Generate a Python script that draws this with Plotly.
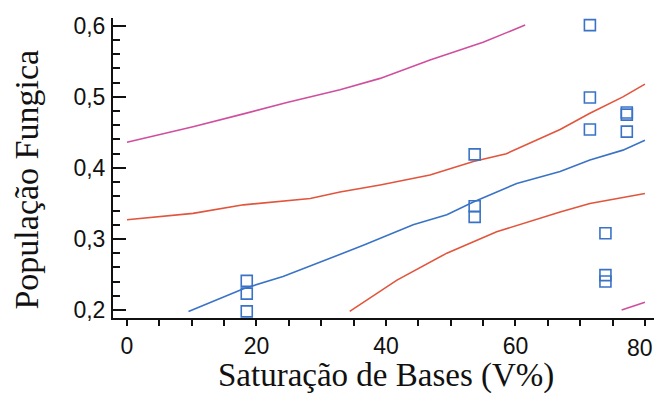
import plotly.graph_objects as go

# Observed data points
pts_x = [18.5, 18.5, 18.5, 53.7, 53.7, 53.7, 71.5, 71.5, 71.5, 73.9, 73.9, 73.9, 77.2, 77.2, 77.2]
pts_y = [0.241, 0.223, 0.198, 0.419, 0.346, 0.331, 0.601, 0.499, 0.454, 0.308, 0.249, 0.240, 0.478, 0.475, 0.451]

# Regression line (blue)
fit_x = [9.5, 18.0, 24.1, 31.4, 36.5, 44.2, 49.4, 53.5, 60.2, 66.9, 71.5, 76.6, 80.0]
fit_y = [0.198, 0.230, 0.247, 0.273, 0.291, 0.320, 0.334, 0.352, 0.378, 0.395, 0.411, 0.425, 0.439]

# Confidence band (red)
ci_up_x = [0.0, 10.2, 18.0, 28.3, 32.9, 39.1, 46.8, 53.5, 58.6, 62.0, 66.9, 71.5, 76.6, 80.0]
ci_up_y = [0.327, 0.336, 0.348, 0.357, 0.366, 0.376, 0.390, 0.409, 0.420, 0.434, 0.454, 0.477, 0.500, 0.518]
ci_lo_x = [34.4, 41.7, 49.4, 57.1, 66.9, 71.5, 80.0]
ci_lo_y = [0.198, 0.242, 0.280, 0.310, 0.338, 0.350, 0.364]

# Prediction band (magenta)
pi_up_x = [0.0, 10.2, 18.0, 24.7, 32.9, 39.1, 46.8, 55.0, 61.5]
pi_up_y = [0.436, 0.458, 0.476, 0.492, 0.510, 0.526, 0.552, 0.577, 0.601]
pi_lo_x = [76.4, 80.0]
pi_lo_y = [0.200, 0.211]

x_ticks = [0, 20, 40, 60, 80]
x_labels = ["0", "20", "40", "60", "80"]
y_ticks = [0.2, 0.3, 0.4, 0.5, 0.6]

x_title = "Saturação de Bases (V%)"
y_title = "População Fungica"

BLUE = "#3a73c6"
RED = "#e2553c"
MAG = "#cf4f9e"
INK = "#111111"
TICKFONT = dict(size=23, family="Liberation Sans, Arial", color=INK)

fig = go.Figure()
for xs, ys, c in [(pi_up_x, pi_up_y, MAG), (pi_lo_x, pi_lo_y, MAG),
                  (ci_up_x, ci_up_y, RED), (ci_lo_x, ci_lo_y, RED),
                  (fit_x, fit_y, BLUE)]:
    fig.add_trace(go.Scatter(x=xs, y=ys, mode="lines",
                             line=dict(color=c, width=1.6), showlegend=False))
fig.add_trace(go.Scatter(x=pts_x, y=pts_y, mode="markers", showlegend=False,
                         marker=dict(symbol="square-open", size=11,
                                     color=BLUE, line=dict(width=1.6, color=BLUE))))

# the last x label sits at the very edge of the figure: draw it as an annotation,
# nudged inward a little so it is not clipped
edge_ann = dict(text=x_labels[-1], x=x_ticks[-1], xref="x", y=0, yref="paper",
                xanchor="center", yanchor="middle", xshift=-5, yshift=-30,
                showarrow=False, font=TICKFONT)
tick_text = x_labels[:-1] + [""]

# the page body adds an 8px margin, so the figure is kept small enough to fit the window
fig.update_layout(
    width=646, height=385,
    margin=dict(l=105, r=0, t=10, b=75, autoexpand=False),
    paper_bgcolor="white", plot_bgcolor="white",
    separators=",.",
    showlegend=False,
    font=dict(family="Liberation Sans, Arial", color=INK),
    annotations=[
        dict(text=x_title, xref="paper", yref="paper", x=0.5046, y=-0.193,
             xanchor="center", yanchor="middle", showarrow=False,
             font=dict(size=33, family="Liberation Serif, Times New Roman", color=INK)),
        dict(text=y_title, xref="paper", yref="paper", x=-0.16, y=0.463,
             xanchor="center", yanchor="middle", showarrow=False, textangle=-90,
             font=dict(size=34, family="Liberation Serif, Times New Roman", color=INK)),
        edge_ann,
    ],
)
fig.update_xaxes(
    range=[-2.16, 81.4], showgrid=False, zeroline=False, automargin=False,
    showline=True, linecolor=INK, linewidth=2,
    tickmode="array", tickvals=x_ticks, ticktext=tick_text,
    ticks="outside", ticklen=6, tickwidth=2, tickcolor=INK,
    tickfont=TICKFONT, ticklabelstandoff=0,
    minor=dict(dtick=5, tick0=0, ticks="outside", ticklen=6, tickwidth=2, tickcolor=INK),
)
fig.update_yaxes(
    range=[0.1887, 0.611], showgrid=False, zeroline=False, automargin=False,
    showline=True, linecolor=INK, linewidth=2,
    tickmode="array", tickvals=y_ticks, tickformat=".1f",
    ticks="inside", ticklen=13, tickwidth=2, tickcolor=INK,
    tickfont=TICKFONT, ticklabelstandoff=1,
    minor=dict(dtick=0.02, tick0=0.2, ticks="inside", ticklen=7, tickwidth=2, tickcolor=INK),
)

fig.write_html("out.html")
